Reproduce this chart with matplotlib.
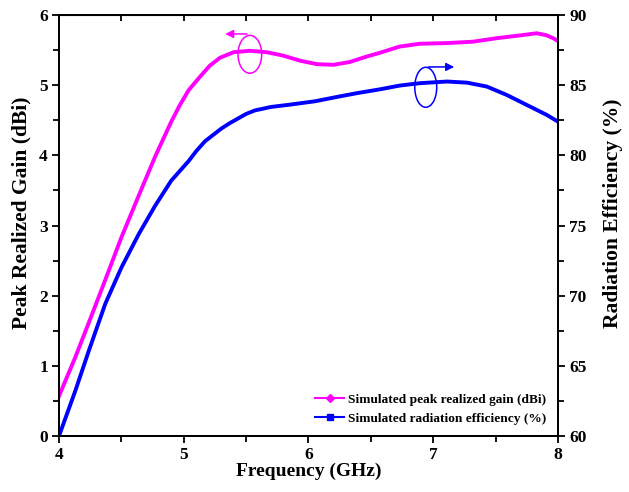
import matplotlib
matplotlib.use("Agg")
import matplotlib.pyplot as plt
from matplotlib.lines import Line2D
from matplotlib.patches import Ellipse
from matplotlib.ticker import MultipleLocator

plt.rcParams["font.family"] = ["Liberation Serif", "DejaVu Serif"]
plt.rcParams["font.weight"] = "bold"

MAGENTA = "#FF00FF"
BLUE = "#0000FF"

# peak realized gain (dBi), left axis
freq_gain = [4.0, 4.13, 4.24, 4.37, 4.5, 4.64, 4.77, 4.9, 4.97, 5.04, 5.13,
             5.21, 5.29, 5.4, 5.53, 5.665, 5.8, 5.93, 6.066, 6.2, 6.33, 6.47,
             6.57, 6.73, 6.89, 7.11, 7.32, 7.51, 7.7, 7.83, 7.91, 7.96, 8.0]
gain = [0.57, 1.12, 1.62, 2.22, 2.83, 3.43, 3.98, 4.48, 4.72, 4.93, 5.12,
        5.28, 5.39, 5.47, 5.49, 5.47, 5.42, 5.35, 5.30, 5.29, 5.33, 5.41,
        5.46, 5.55, 5.59, 5.60, 5.62, 5.67, 5.71, 5.74, 5.71, 5.67, 5.63]

# radiation efficiency (%), right axis
freq_eff = [4.0, 4.13, 4.24, 4.37, 4.5, 4.64, 4.77, 4.9, 5.04, 5.1, 5.17, 5.3,
            5.37, 5.44, 5.5, 5.57, 5.7, 5.84, 6.05, 6.25, 6.4, 6.57, 6.73,
            6.89, 7.11, 7.27, 7.43, 7.59, 7.75, 7.91, 8.0]
eff = [60.0, 63.2, 66.1, 69.4, 72.0, 74.4, 76.4, 78.2, 79.6, 80.3, 81.0, 81.9,
       82.3, 82.65, 82.95, 83.2, 83.45, 83.6, 83.85, 84.2, 84.45, 84.7, 84.97,
       85.14, 85.26, 85.18, 84.9, 84.3, 83.59, 82.88, 82.4]

fig = plt.figure(figsize=(6.29, 4.92), dpi=100)
ax = fig.add_axes([0.0938, 0.1138, 0.7933, 0.8557])
ax2 = ax.twinx()

ax.plot(freq_gain, gain, color=MAGENTA, lw=2.8, solid_joinstyle="round")
ax2.plot(freq_eff, eff, color=BLUE, lw=2.8, solid_joinstyle="round")

ax.set_xlim(4, 8)
ax.set_ylim(0, 6)
ax2.set_ylim(60, 90)

ax.xaxis.set_major_locator(MultipleLocator(1))
ax.xaxis.set_minor_locator(MultipleLocator(0.5))
ax.yaxis.set_major_locator(MultipleLocator(1))
ax.yaxis.set_minor_locator(MultipleLocator(0.5))
ax2.yaxis.set_major_locator(MultipleLocator(5))
ax2.yaxis.set_minor_locator(MultipleLocator(2.5))

for a in (ax, ax2):
    a.tick_params(which="major", direction="out", length=5, width=1.3, labelsize=12.5, pad=3)
    a.tick_params(which="minor", direction="out", length=4, width=1.3)
    for s in a.spines.values():
        s.set_linewidth(1.4)

top = ax.secondary_xaxis("top")
top.set_xticks([4, 4.5, 5, 5.5, 6, 6.5, 7, 7.5, 8])
top.set_xticklabels([])
top.tick_params(direction="in", length=4, width=1.3)

for lab in ax.get_xticklabels() + ax.get_yticklabels() + ax2.get_yticklabels():
    lab.set_fontweight("bold")

ax.set_xlabel("Frequency (GHz)", fontsize=14, fontweight="bold", labelpad=0)
ax.set_ylabel("Peak Realized Gain (dBi)", fontsize=15.5, fontweight="bold")
ax2.set_ylabel("Radiation Efficiency (%)", fontsize=15.5, fontweight="bold")
ax.yaxis.set_label_coords(-0.056, 0.53)
ax2.yaxis.set_label_coords(1.09, 0.53)

# axis markers: ellipse with arrow pointing to the axis
ax.add_patch(Ellipse((5.53, 5.44), 0.19, 0.54, fill=False, ec=MAGENTA, lw=1.1))
ax.annotate("", xy=(5.31, 5.73), xytext=(5.53, 5.73),
            arrowprops=dict(arrowstyle="-|>", color=MAGENTA, lw=1.1, mutation_scale=12))
ax.add_patch(Ellipse((6.94, 4.97), 0.176, 0.57, fill=False, ec=BLUE, lw=1.1))
ax.annotate("", xy=(7.19, 5.26), xytext=(6.94, 5.26),
            arrowprops=dict(arrowstyle="-|>", color=BLUE, lw=1.1, mutation_scale=12))

handles = [
    Line2D([], [], color=MAGENTA, lw=1.5, marker="D", markersize=4),
    Line2D([], [], color=BLUE, lw=1.5, marker="s", markersize=4),
]
labels = ["Simulated peak realized gain (dBi)", "Simulated radiation efficiency (%)"]
ax.legend(handles, labels, loc="lower right", frameon=False,
          prop={"family": "Liberation Serif", "weight": "bold", "size": 9.6},
          handlelength=2.2, handletextpad=0.3, borderaxespad=0.45, labelspacing=0.5)

fig.savefig("out.png", dpi=100)
